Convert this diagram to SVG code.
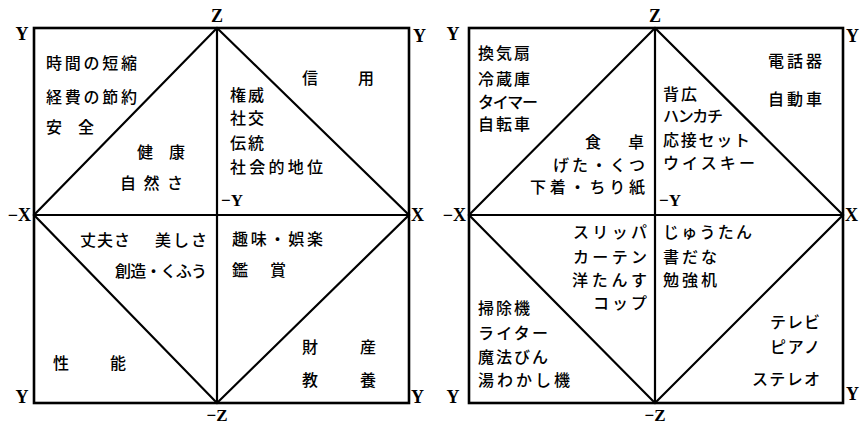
<svg xmlns="http://www.w3.org/2000/svg" width="862" height="426" viewBox="0 0 862 426">
<style>
.t{font-family:"Noto Sans CJK JP","Noto Sans CJK SC",sans-serif;font-size:16px;font-weight:500;fill:#000}
.a{font-family:"Liberation Serif",serif;font-size:18px;font-weight:bold;fill:#000}
.b{font-family:"Liberation Serif",serif;font-size:17px;font-weight:bold;fill:#000}
.m{font-family:"Liberation Serif",serif;font-size:17px;font-weight:bold;fill:#000}
.box{fill:none;stroke:#000;stroke-width:2.6}
.ln{fill:none;stroke:#000;stroke-width:2.2}
</style>
<rect width="862" height="426" fill="#fff"/>
<g id="connectors">
<rect class="box" x="34" y="28" width="375" height="375"/>
<line class="ln" x1="34" y1="215" x2="409" y2="215"/>
<line class="ln" x1="217" y1="28" x2="217" y2="403"/>
<polygon class="ln" points="217,28 409,215 217,403 34,215"/>
<rect class="box" x="469" y="28" width="374" height="375"/>
<line class="ln" x1="469" y1="215" x2="843" y2="215"/>
<line class="ln" x1="655" y1="28" x2="655" y2="403"/>
<polygon class="ln" points="655,28 843,215 655,403 469,215"/>
</g>
<g id="axes-left">
<text class="a" x="217" y="22" text-anchor="middle">Z</text>
<text class="a" x="22" y="40" text-anchor="middle">Y</text>
<text class="a" x="31" y="221" text-anchor="end">−X</text>
<text class="a" x="22" y="403" text-anchor="middle">Y</text>
<text class="b" x="217" y="421" text-anchor="middle">−Z</text>
<text class="a" x="411" y="221">X</text>
<text class="a" x="413" y="42">Y</text>
<text class="a" x="411" y="403">Y</text>
<text class="m" x="221" y="206">−Y</text>
</g>
<g id="axes-right">
<text class="a" x="655" y="22" text-anchor="middle">Z</text>
<text class="a" x="453" y="40" text-anchor="middle">Y</text>
<text class="a" x="466" y="221" text-anchor="end">−X</text>
<text class="a" x="453" y="403" text-anchor="middle">Y</text>
<text class="b" x="655" y="421" text-anchor="middle">−Z</text>
<text class="a" x="845" y="221">X</text>
<text class="a" x="846" y="42">Y</text>
<text class="a" x="846" y="400">Y</text>
<text class="m" x="659" y="206">−Y</text>
</g>
<g id="left-upper-left">
<text class="t" x="46" y="69" textLength="91" lengthAdjust="spacing">時間の短縮</text>
<text class="t" x="46" y="103" textLength="91" lengthAdjust="spacing">経費の節約</text>
<text class="t" x="46" y="133">安</text>
<text class="t" x="78" y="133">全</text>
<text class="t" x="137" y="158">健</text>
<text class="t" x="169" y="158">康</text>
<text class="t" x="120" y="189" textLength="63" lengthAdjust="spacing">自然さ</text>
</g>
<g id="left-upper-right">
<text class="t" x="302" y="84">信</text>
<text class="t" x="358" y="84">用</text>
<text class="t" x="230" y="101" textLength="34" lengthAdjust="spacing">権威</text>
<text class="t" x="230" y="124" textLength="34" lengthAdjust="spacing">社交</text>
<text class="t" x="230" y="149" textLength="34" lengthAdjust="spacing">伝統</text>
<text class="t" x="230" y="173" textLength="93" lengthAdjust="spacing">社会的地位</text>
</g>
<g id="left-lower-left">
<text class="t" x="80" y="246" textLength="50" lengthAdjust="spacing">丈夫さ</text>
<text class="t" x="155" y="246" textLength="52" lengthAdjust="spacing">美しさ</text>
<text class="t" x="115" y="277" textLength="92" lengthAdjust="spacing">創造・くふう</text>
<text class="t" x="53" y="369">性</text>
<text class="t" x="110" y="369">能</text>
</g>
<g id="left-lower-right">
<text class="t" x="232" y="245" textLength="91" lengthAdjust="spacing">趣味・娯楽</text>
<text class="t" x="232" y="276">鑑</text>
<text class="t" x="270" y="276">賞</text>
<text class="t" x="302" y="353">財</text>
<text class="t" x="360" y="353">産</text>
<text class="t" x="302" y="386">教</text>
<text class="t" x="360" y="386">養</text>
</g>
<g id="right-upper-left">
<text class="t" x="478" y="59" textLength="52" lengthAdjust="spacing">換気扇</text>
<text class="t" x="478" y="85" textLength="52" lengthAdjust="spacing">冷蔵庫</text>
<text class="t" x="478" y="108" textLength="60" lengthAdjust="spacing">タイマー</text>
<text class="t" x="478" y="130" textLength="52" lengthAdjust="spacing">自転車</text>
<text class="t" x="585" y="148">食</text>
<text class="t" x="628" y="148">卓</text>
<text class="t" x="553" y="171" textLength="92" lengthAdjust="spacing">げた・くつ</text>
<text class="t" x="530" y="193" textLength="115" lengthAdjust="spacing">下着・ちり紙</text>
</g>
<g id="right-upper-right">
<text class="t" x="768" y="67" textLength="54" lengthAdjust="spacing">電話器</text>
<text class="t" x="768" y="105" textLength="54" lengthAdjust="spacing">自動車</text>
<text class="t" x="663" y="100" textLength="34" lengthAdjust="spacing">背広</text>
<text class="t" x="663" y="122" textLength="60" lengthAdjust="spacing">ハンカチ</text>
<text class="t" x="663" y="146" textLength="87" lengthAdjust="spacing">応接セット</text>
<text class="t" x="663" y="169" textLength="92" lengthAdjust="spacing">ウイスキー</text>
</g>
<g id="right-lower-left">
<text class="t" x="573" y="238" textLength="74" lengthAdjust="spacing">スリッパ</text>
<text class="t" x="573" y="263" textLength="74" lengthAdjust="spacing">カーテン</text>
<text class="t" x="572" y="286" textLength="75" lengthAdjust="spacing">洋たんす</text>
<text class="t" x="593" y="309" textLength="54" lengthAdjust="spacing">コップ</text>
<text class="t" x="478" y="314" textLength="52" lengthAdjust="spacing">掃除機</text>
<text class="t" x="478" y="339" textLength="70" lengthAdjust="spacing">ライター</text>
<text class="t" x="478" y="363" textLength="70" lengthAdjust="spacing">魔法びん</text>
<text class="t" x="478" y="386" textLength="92" lengthAdjust="spacing">湯わかし機</text>
</g>
<g id="right-lower-right">
<text class="t" x="663" y="238" textLength="89" lengthAdjust="spacing">じゅうたん</text>
<text class="t" x="663" y="263" textLength="54" lengthAdjust="spacing">書だな</text>
<text class="t" x="663" y="286" textLength="54" lengthAdjust="spacing">勉強机</text>
<text class="t" x="770" y="328" textLength="50" lengthAdjust="spacing">テレビ</text>
<text class="t" x="770" y="353" textLength="50" lengthAdjust="spacing">ピアノ</text>
<text class="t" x="752" y="385" textLength="68" lengthAdjust="spacing">ステレオ</text>
</g>
</svg>
